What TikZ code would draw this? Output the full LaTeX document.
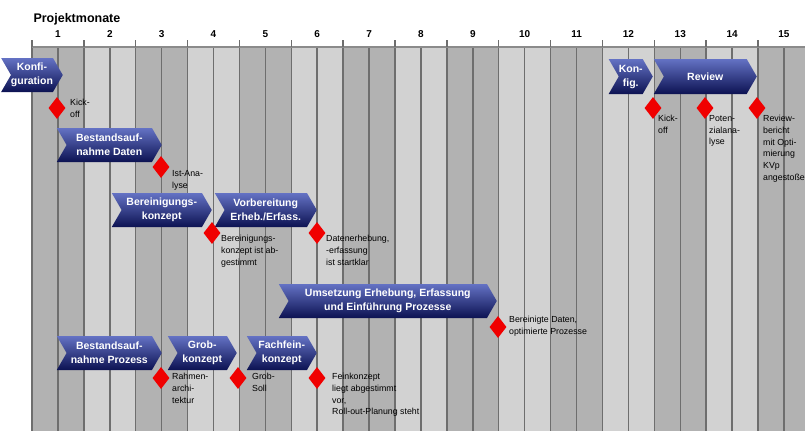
\documentclass[tikz,border=0pt]{standalone}
\usepackage{fontspec}
\setmainfont{Liberation Sans}
\usetikzlibrary{shapes.symbols,shapes.geometric}
\definecolor{coldark}{RGB}{178,178,178}
\definecolor{collight}{RGB}{210,210,210}
\definecolor{gridline}{RGB}{110,110,110}
\definecolor{phasetop}{RGB}{100,114,196}
\definecolor{phasebot}{RGB}{12,18,82}
\definecolor{milered}{RGB}{240,0,0}
\tikzset{
  phase/.style={signal, signal to=east, signal from=west, signal pointer angle=120,
    top color=phasetop, bottom color=phasebot, text=white, align=center,
    font=\fontsize{10.5}{14}\selectfont\bfseries, minimum height=34pt, inner sep=0pt},
  milestone/.style={diamond, fill=milered, minimum width=17pt, minimum height=22pt, inner sep=0pt},
  msnote/.style={anchor=north west, align=left, inner sep=0pt, text=black,
    font=\fontsize{8.8}{11.8}\selectfont},
}
\begin{document}
\begin{tikzpicture}[x=1pt, y=-1pt]
   \useasboundingbox (0,0) rectangle (805,431);
   \clip (0,0) rectangle (805,431);
   % month columns and grid
   \foreach \m in {1,3,...,15}
     \fill[coldark] ({32+51.86*(\m-1)},47) rectangle ++(51.86,384);
   \foreach \m in {2,4,...,14}
     \fill[collight] ({32+51.86*(\m-1)},47) rectangle ++(51.86,384);
   \foreach \k in {0,...,29}
     \draw[gridline, line width=1.5pt] ({32+25.93*\k},47) -- ++(0,384);
   \draw[gridline!80, line width=1.5pt] (32,47) -- (805,47);
   \foreach \k in {0,...,14}
     \draw[gridline, line width=1.5pt] ({32+51.86*\k},40) -- ++(0,7);
   \node[anchor=base west, font=\fontsize{12.5}{14}\selectfont\bfseries] (title) at (30,23) {Projektmonate};
   \foreach \m in {1,...,15}
     \node[font=\fontsize{10}{12}\selectfont\bfseries] (month\m) at ({32+51.86*(\m-0.5)},34.5) {\m};

   % phases
   \node[phase, minimum width=58pt, anchor=east] (konf) at (63,75) {Konfi-\\guration};
   \node[phase, minimum width=105pt, anchor=east] (bdaten) at (162,145) {Bestandsauf-\\nahme Daten};
   \node[phase, minimum width=100pt, anchor=east] (bkonz) at (212,210) {Bereinigungs-\\konzept};
   \node[phase, minimum width=102pt, anchor=east] (vorb) at (317,210) {Vorbereitung\\Erheb./Erfass.};
   \node[phase, minimum width=218pt, anchor=east] (umsetz) at (497,301) {Umsetzung Erhebung, Erfassung\\und Einführung Prozesse};
   \node[phase, minimum width=105pt, anchor=east] (bproz) at (162,353) {Bestandsauf-\\nahme Prozess};
   \node[phase, minimum width=69pt, anchor=east] (grob) at (237,353) {Grob-\\konzept};
   \node[phase, minimum width=70pt, anchor=east] (fein) at (317,353) {Fachfein-\\konzept};
   \node[phase, minimum width=37pt, minimum height=35pt, anchor=east] (konf2) at (653,76.5) {Kon-\\fig.};
   \node[phase, minimum width=103pt, minimum height=35pt, anchor=east] (review) at (757,76.5) {Review};

   % milestones
   \node[milestone] (m1) at (57,108) {};
   \node[milestone] (m2) at (161,167) {};
   \node[milestone] (m3) at (212,233) {};
   \node[milestone] (m4) at (317,233) {};
   \node[milestone] (m5) at (498,327) {};
   \node[milestone] (m6) at (161,378) {};
   \node[milestone] (m7) at (238,378) {};
   \node[milestone] (m8) at (317,378) {};
   \node[milestone] (m9) at (653,108) {};
   \node[milestone] (m10) at (705,108) {};
   \node[milestone] (m11) at (757,108) {};

   \node[msnote] (n1) at (70,99) {Kick-\\off};
   \node[msnote] (n2) at (172,170) {Ist-Ana-\\lyse};
   \node[msnote] (n3) at (221,235) {Bereinigungs-\\konzept ist ab-\\gestimmt};
   \node[msnote] (n4) at (326,235) {Datenerhebung,\\-erfassung\\ist startklar};
   \node[msnote] (n5) at (509,316) {Bereinigte Daten,\\optimierte Prozesse};
   \node[msnote] (n6) at (172,373) {Rahmen-\\archi-\\tektur};
   \node[msnote] (n7) at (252,373) {Grob-\\Soll};
   \node[msnote] (n8) at (332,373) {Feinkonzept\\liegt abgestimmt\\vor,\\Roll-out-Planung steht};
   \node[msnote] (n9) at (658,115) {Kick-\\off};
   \node[msnote] (n10) at (709,115) {Poten-\\zialana-\\lyse};
   \node[msnote] (n11) at (763,115) {Review-\\bericht\\mit Opti-\\mierung\\KVp\\angestoßen};
\end{tikzpicture}
\end{document}
